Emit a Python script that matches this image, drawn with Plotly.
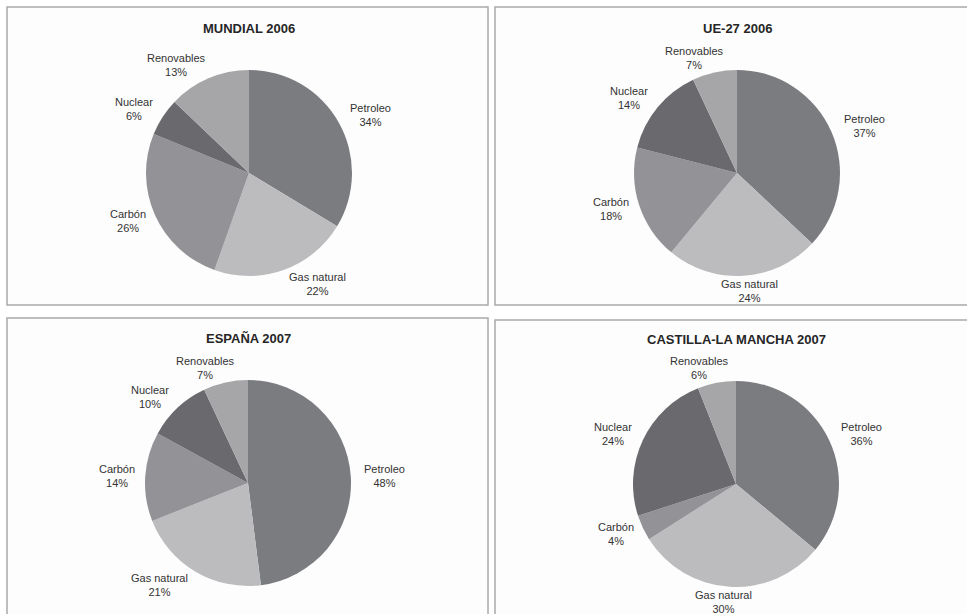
import math
import plotly.graph_objects as go

# ---- data ----
sources = ["Petroleo", "Gas natural", "Carbón", "Nuclear", "Renovables"]
titles = ["MUNDIAL 2006", "UE-27 2006", "ESPAÑA 2007", "CASTILLA-LA MANCHA 2007"]
mundial_2006 = [34, 22, 26, 6, 13]
ue27_2006 = [37, 24, 18, 14, 7]
espana_2007 = [48, 21, 14, 10, 7]
clm_2007 = [36, 30, 4, 24, 6]

# ---- layout / style ----
W, H = 967, 614
colors = ["#7b7c80", "#bcbcbf", "#939397", "#6a6a6e", "#a6a6a9"]
panels = [  # panel rectangles (px) and pie centre (px)
    dict(rect=(7, 7, 488, 305), c=(249, 173)),
    dict(rect=(495, 7, 980, 305), c=(737, 173)),
    dict(rect=(7, 318, 488, 630), c=(248, 483)),
    dict(rect=(495, 320, 980, 630), c=(736, 484)),
]
R = 103
FONT = "Arial, Liberation Sans, sans-serif"

def px(x):
    return x / W

def py(y):
    return 1 - y / H

fig = go.Figure()
shapes = []
annotations = []
series = [mundial_2006, ue27_2006, espana_2007, clm_2007]

for p, vals, title in zip(panels, series, titles):
    x0, y0, x1, y1 = p["rect"]
    shapes.append(dict(type="rect", xref="paper", yref="paper",
                       x0=px(x0), x1=px(x1), y0=py(y1), y1=py(y0),
                       line=dict(color="#a9a9a9", width=1.5), fillcolor="#fdfdfd",
                       layer="below"))
    cx, cy = p["c"]
    fig.add_trace(go.Pie(
        labels=sources, values=vals, sort=False, direction="clockwise",
        rotation=0, textinfo="none", hoverinfo="label+percent",
        marker=dict(colors=colors, line=dict(width=0)),
        domain=dict(x=[px(cx - R), px(cx + R)], y=[py(cy + R), py(cy - R)]),
        showlegend=False,
    ))
    annotations.append(dict(text="<b>" + title + "</b>", xref="paper", yref="paper",
                            x=px(cx), y=py(cy - 145), xanchor="center", yanchor="middle",
                            showarrow=False, font=dict(family=FONT, size=13, color="#262626")))
    total = sum(vals)
    cum = 0
    for name, v in zip(sources, vals):
        mid = (cum + v / 2) / total * 2 * math.pi
        cum += v
        ux, uy = math.sin(mid), -math.cos(mid)
        hw = max(len(name), 3) * 5.4 / 2
        hh = 13
        fx = min(1.0, 3 * abs(ux)) * (1 if ux >= 0 else -1)
        lx = cx + (R + 12) * ux + hw * fx
        ly = cy + (R + 2) * uy + hh * uy
        annotations.append(dict(text=f"{name}<br>{v}%", xref="paper", yref="paper",
                                x=px(lx), y=py(ly), xanchor="center", yanchor="middle",
                                showarrow=False, align="center",
                                font=dict(family=FONT, size=11, color="#333333")))

fig.update_layout(
    width=W, height=H, margin=dict(l=0, r=0, t=0, b=0),
    paper_bgcolor="white", plot_bgcolor="white",
    shapes=shapes, annotations=annotations,
)
fig.write_html("out.html", config={"displayModeBar": False},
               post_script="document.body.style.margin='0';document.body.style.overflow='hidden';")
